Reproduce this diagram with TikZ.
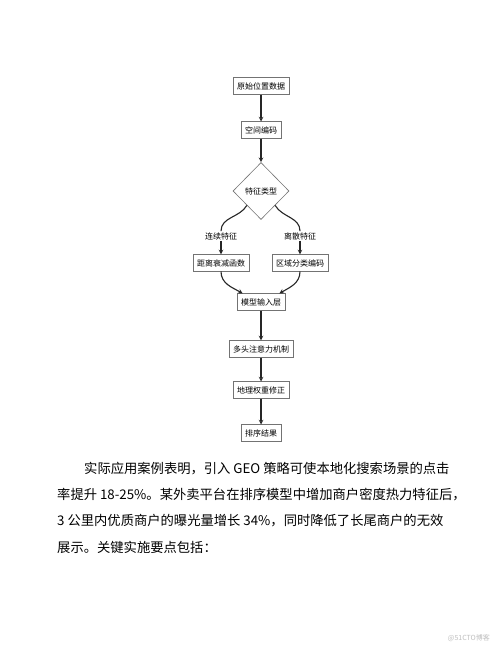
\documentclass[tikz,border=0pt]{standalone}
\usepackage{fontspec}
\setmainfont{Liberation Serif}
\newfontfamily\cjk{Noto Sans CJK SC}
\usepackage{tikz}
\usetikzlibrary{shapes.geometric, arrows}
\tikzstyle{arrow} = [line width=1.1pt,->,>=stealth,draw=black!85]
\tikzstyle{link} = [line width=1.1pt,draw=black!85]
\tikzstyle{stepbox} = [draw=black!55, line width=0.6pt, fill=white, inner xsep=4pt, inner ysep=4.5pt, font=\cjk\fontsize{8}{9}\selectfont]
\tikzstyle{choice} = [diamond, draw=black!55, line width=0.6pt, fill=white, minimum width=56pt, minimum height=57pt, inner sep=0pt, font=\cjk\fontsize{8}{9}\selectfont]
\tikzstyle{tag} = [inner sep=1pt, font=\cjk\fontsize{8}{9}\selectfont]
\tikzstyle{para} = [anchor=west, inner sep=0pt, font=\cjk\fontsize{13.3}{16}\selectfont]

\begin{document}
\begin{tikzpicture}[x=1pt,y=-1pt]
\useasboundingbox[fill=white] (0,0) rectangle (500,647);

% flow chart
\node[stepbox] (raw) at (261,86) {原始位置数据};
\node[stepbox] (enc) at (261,130) {空间编码};
\node[choice] (type) at (261,191) {特征类型};
\node[tag] (cont) at (221,236) {连续特征};
\node[tag] (disc) at (300,236) {离散特征};
\node[stepbox] (decay) at (221,263) {距离衰减函数};
\node[stepbox] (zone) at (300,263) {区域分类编码};
\node[stepbox] (input) at (261,302) {模型输入层};
\node[stepbox] (attn) at (261,349) {多头注意力机制};
\node[stepbox] (geo) at (261,390) {地理权重修正};
\node[stepbox] (rank) at (261,433) {排序结果};

\draw[arrow] (raw) -- (enc);
\draw[arrow] (enc) -- (type);
\draw[link] (type.south west) to[out=-120,in=90] (cont.north);
\draw[link] (type.south east) to[out=-60,in=90] (disc.north);
\draw[arrow] (cont) -- (decay);
\draw[arrow] (disc) -- (zone);
\draw[arrow] (decay.south) to[out=-90,in=150] ([xshift=6pt]input.north west);
\draw[arrow] (zone.south) to[out=-90,in=30] ([xshift=-6pt]input.north east);
\draw[arrow] (input) -- (attn);
\draw[arrow] (attn) -- (geo);
\draw[arrow] (geo) -- (rank);

% body text
\node[para] (l1) at (84,469) {实际应用案例表明，引入 GEO 策略可使本地化搜索场景的点击};
\node[para] (l2) at (57,495) {率提升 18-25\%。某外卖平台在排序模型中增加商户密度热力特征后，};
\node[para] (l3) at (57,521) {3 公里内优质商户的曝光量增长 34\%，同时降低了长尾商户的无效};
\node[para] (l4) at (57,547) {展示。关键实施要点包括：};

\node[anchor=east, inner sep=0pt, text=black!25, font=\cjk\fontsize{7}{8}\selectfont] (mark) at (490,638) {@51CTO博客};
\end{tikzpicture}
\end{document}
